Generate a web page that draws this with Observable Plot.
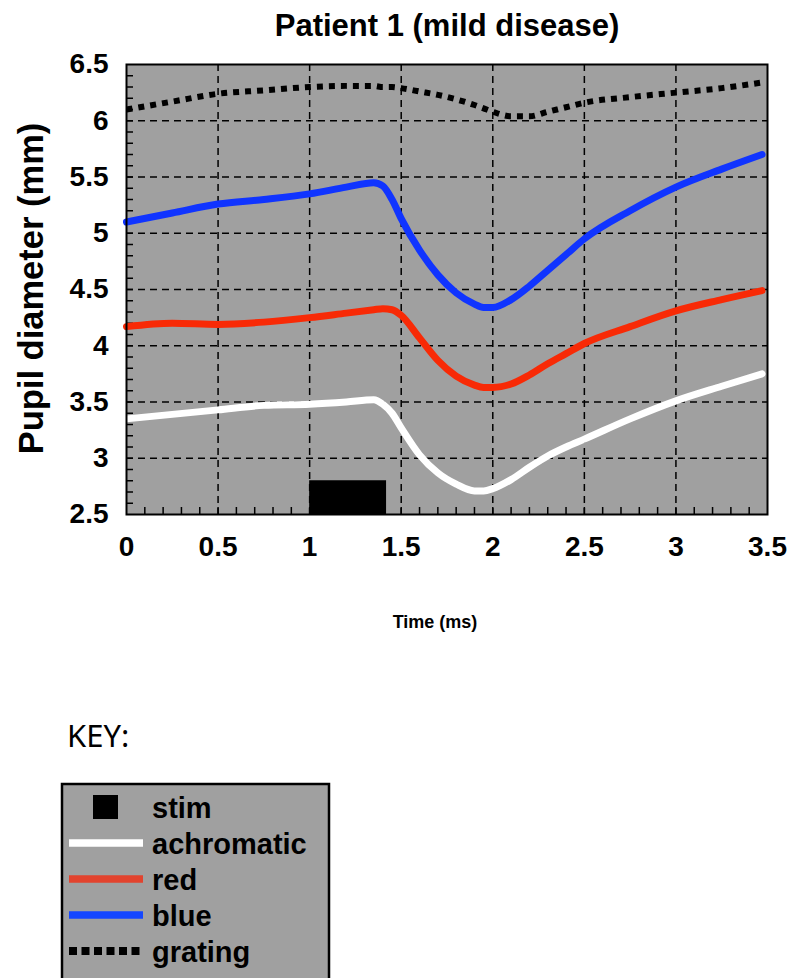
<!DOCTYPE html>
<html><head><meta charset="utf-8">
<script src="https://cdn.jsdelivr.net/npm/d3@7"></script>
<script src="https://cdn.jsdelivr.net/npm/@observablehq/plot@0.6"></script>
<style>
body{margin:0;background:#fff;overflow:hidden;}
#wrap{position:relative;width:793px;height:978px;overflow:hidden;}
#chart{position:absolute;left:0;top:0;}
#legend{position:absolute;left:0;top:700px;}
</style></head>
<body><div id="wrap"><div id="chart"></div><svg id="legend"></svg></div>
<script>
// ---- data ----
const titleText = "Patient 1 (mild disease)";
const xLabelText = "Time (ms)";
const yLabelText = "Pupil diameter (mm)";
const keyTitle = "KEY:";

const time = [0, 0.25, 0.5, 0.75, 1.0, 1.2, 1.35, 1.4, 1.45, 1.5, 1.6, 1.7, 1.8, 1.9, 1.95, 2.0, 2.1, 2.2, 2.3, 2.4, 2.5, 2.75, 3.0, 3.25, 3.47];
const achromatic = [3.35, 3.39, 3.43, 3.47, 3.48, 3.50, 3.52, 3.48, 3.40, 3.27, 3.03, 2.87, 2.77, 2.71, 2.71, 2.73, 2.81, 2.92, 3.02, 3.10, 3.17, 3.35, 3.51, 3.64, 3.75];
const red =        [4.17, 4.20, 4.19, 4.21, 4.25, 4.29, 4.32, 4.33, 4.32, 4.27, 4.07, 3.87, 3.73, 3.65, 3.63, 3.63, 3.66, 3.74, 3.84, 3.93, 4.02, 4.17, 4.31, 4.41, 4.49];
const blue =       [5.10, 5.18, 5.26, 5.30, 5.35, 5.41, 5.45, 5.42, 5.30, 5.13, 4.85, 4.63, 4.47, 4.37, 4.34, 4.34, 4.41, 4.53, 4.67, 4.81, 4.95, 5.20, 5.41, 5.57, 5.70];
const grating =    [6.10, 6.17, 6.24, 6.27, 6.30, 6.31, 6.31, 6.30, 6.30, 6.29, 6.26, 6.23, 6.19, 6.14, 6.11, 6.08, 6.04, 6.04, 6.08, 6.12, 6.16, 6.21, 6.25, 6.29, 6.34];

const stimStart = 1.0, stimEnd = 1.42, stimTop = 2.8;

const seriesNames = ["achromatic", "red", "blue"];
const seriesColors = ["#ffffff", "#f82a06", "#1034ff"];
const legendNames = ["stim", "achromatic", "red", "blue", "grating"];
const legendColors = ["black", "#ffffff", "#e2432e", "#1446ff", "black"];

const xTicks = [0, 0.5, 1, 1.5, 2, 2.5, 3, 3.5];
const yTicks = [2.5, 3, 3.5, 4, 4.5, 5, 5.5, 6, 6.5];
const minorX = d3.range(1, 35).map(i => i / 10);
const minorY = d3.range(26, 65).map(i => i / 10);

// ---- tables ----
const seriesVals = [achromatic, red, blue];
const rows = [];
seriesNames.forEach((s, k) => time.forEach((t, i) => rows.push({series: s, t, v: seriesVals[k][i]})));
const gratingRows = time.map((t, i) => ({t, v: grating[i]}));

const chart = Plot.plot({
  width: 793, height: 660,
  marginTop: 64, marginBottom: 146, marginLeft: 126, marginRight: 26,
  style: {fontFamily: "'Liberation Sans', Arial, sans-serif", fontSize: "28px", fontWeight: "bold", background: "white", color: "black"},
  x: {domain: [0, 3.5], ticks: xTicks, tickSize: 0, tickPadding: 22, label: null, tickFormat: d => String(d)},
  y: {domain: [2.5, 6.5], ticks: yTicks, tickSize: 0, tickPadding: 18, label: null, tickFormat: d => String(d)},
  color: {domain: seriesNames, range: seriesColors},
  marks: [
    Plot.frame({fill: "#a0a0a0"}),
    Plot.ruleX(xTicks.slice(1, -1), {stroke: "black", strokeWidth: 1.5, strokeDasharray: "7,5"}),
    Plot.ruleY(yTicks.slice(1, -1), {stroke: "black", strokeWidth: 1.5, strokeDasharray: "7,5"}),
    Plot.tickX(minorX, {x: d => d, stroke: "black", strokeWidth: 1.5, insetTop: 443}),
    Plot.tickY(minorY, {y: d => d, stroke: "black", strokeWidth: 1.5, insetRight: 634}),
    Plot.rect([{x1: stimStart, x2: stimEnd, y1: 2.5, y2: stimTop}], {x1: "x1", x2: "x2", y1: "y1", y2: "y2", fill: "black"}),
    Plot.line(gratingRows, {x: "t", y: "v", stroke: "black", strokeWidth: 6, strokeDasharray: "6,6", strokeLinecap: "butt", curve: "monotone-x"}),
    Plot.line(rows, {x: "t", y: "v", z: "series", stroke: "series", strokeWidth: 7, curve: "monotone-x"}),
    Plot.frame({stroke: "black", strokeWidth: 2}),
    Plot.text([titleText], {frameAnchor: "top", lineAnchor: "middle", dy: -38, fontSize: 31}),
    Plot.text([xLabelText], {frameAnchor: "bottom", lineAnchor: "middle", textAnchor: "middle", dx: -12, dy: 108, fontSize: 18}),
    Plot.text([yLabelText], {frameAnchor: "left", textAnchor: "middle", lineAnchor: "middle", dx: -95, dy: -1, rotate: -90, fontSize: 34.5})
  ]
});
document.getElementById("chart").appendChild(chart);

// ---- legend ----
const lg = d3.select("#legend").attr("width", 793).attr("height", 278);
lg.append("text").attr("x", 67).attr("y", 47).text(keyTitle)
  .style("font-family", "'Noto Sans', sans-serif").style("font-size", "31px").attr("fill", "black");
lg.append("rect").attr("x", 62).attr("y", 84).attr("width", 267).attr("height", 240)
  .attr("fill", "#a0a0a0").attr("stroke", "black").attr("stroke-width", 2.5);
legendNames.forEach((name, i) => {
  const cy = 107 + i * 36;
  if (name === "stim") {
    lg.append("rect").attr("x", 93).attr("y", cy - 12).attr("width", 25).attr("height", 24).attr("fill", legendColors[i]);
  } else {
    const l = lg.append("line").attr("x1", 69).attr("x2", 143).attr("y1", cy).attr("y2", cy)
      .attr("stroke", legendColors[i]).attr("stroke-width", name === "grating" ? 8 : 7.5);
    if (name === "grating") l.attr("stroke-dasharray", "8,4.5");
  }
  lg.append("text").attr("x", 152).attr("y", cy + 11).text(name)
    .style("font-family", "'Liberation Sans', Arial, sans-serif").style("font-weight", "bold").style("font-size", "29px").attr("fill", "black");
});
</script>
</body></html>
